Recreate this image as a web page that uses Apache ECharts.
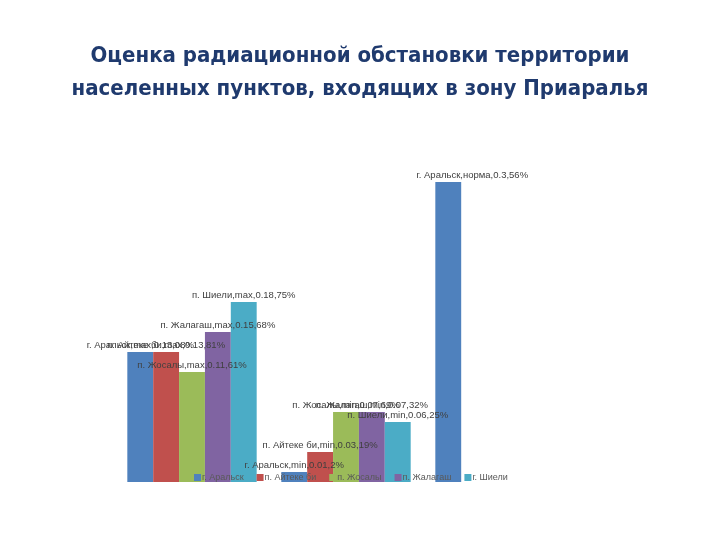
<!DOCTYPE html>
<html>
<head>
<meta charset="utf-8">
<script src="https://cdn.jsdelivr.net/npm/echarts@6/dist/echarts.min.js"></script>
<style>html,body{margin:0;padding:0;background:#fff;}#c{width:720px;height:540px;}</style>
</head>
<body>
<div id="c"></div>
<script>
const categories = ['max', 'min', 'норма'];
const seriesNames = ['г. Аральск', 'п. Айтеке би', 'п. Жосалы', 'п. Жалагаш', 'г. Шиели'];
const aralsk = [0.13, 0.01, 0.3];
const aiteke = [0.13, 0.03, null];
const zhosaly = [0.11, 0.07, null];
const zhalagash = [0.15, 0.07, null];
const shieli = [0.18, 0.06, null];
const aralskLabels = ['г. Аральск,max,0.13,08%', 'г. Аральск,min,0.01,2%', 'г. Аральск,норма,0.3,56%'];
const aitekeLabels = ['п. Айтеке би,max,0.13,81%', 'п. Айтеке би,min,0.03,19%', ''];
const zhosalyLabels = ['п. Жосалы,max,0.11,61%', 'п. Жосалы,min,0.07,69%', ''];
const zhalagashLabels = ['п. Жалагаш,max,0.15,68%', 'п. Жалагаш,min,0.07,32%', ''];
const shieliLabels = ['п. Шиели,max,0.18,75%', 'п. Шиели,min,0.06,25%', ''];

const values = [aralsk, aiteke, zhosaly, zhalagash, shieli];
const labels = [aralskLabels, aitekeLabels, zhosalyLabels, zhalagashLabels, shieliLabels];
const colors = ['#4F81BD', '#C0504D', '#9BBB59', '#8064A2', '#4BACC6'];

const chart = echarts.init(document.getElementById('c'));
chart.setOption({
  animation: false,
  title: {
    text: 'Оценка радиационной обстановки территории\nнаселенных пунктов, входящих в зону Приаралья',
    left: 'center',
    top: 35,
    textStyle: {
      fontFamily: '"Liberation Sans Narrow", "DejaVu Sans Condensed", sans-serif',
      fontSize: 22,
      fontWeight: 'bold',
      color: '#1F3A6E',
      lineHeight: 33
    }
  },
  color: colors,
  legend: {
    data: seriesNames,
    left: 189,
    top: 468,
    itemWidth: 7,
    itemHeight: 7,
    itemGap: 13,
    icon: 'rect',
    textStyle: { fontSize: 9, color: '#595959', fontFamily: 'Liberation Sans, sans-serif', padding: [0, 0, 0, -4] }
  },
  grid: { left: 115, right: 143, top: 182, bottom: 58 },
  xAxis: {
    type: 'category',
    data: categories,
    show: false
  },
  yAxis: {
    type: 'value',
    min: 0,
    max: 0.3,
    show: false,
    splitLine: { show: false }
  },
  series: seriesNames.map((name, i) => ({
    name: name,
    type: 'bar',
    data: values[i].map((v, j) => {
      if (v === null) return '-';
      if (i === 0 && j === 2) return { value: v, label: { offset: [24, 0] } };
      return v;
    }),
    barGap: '0%',
    barCategoryGap: '16%',
    label: {
      show: true,
      position: 'top',
      distance: 2,
      fontSize: 9.5,
      color: '#404040',
      fontFamily: 'Liberation Sans, sans-serif',
      formatter: p => labels[i][p.dataIndex]
    }
  }))
});
</script>
</body>
</html>
